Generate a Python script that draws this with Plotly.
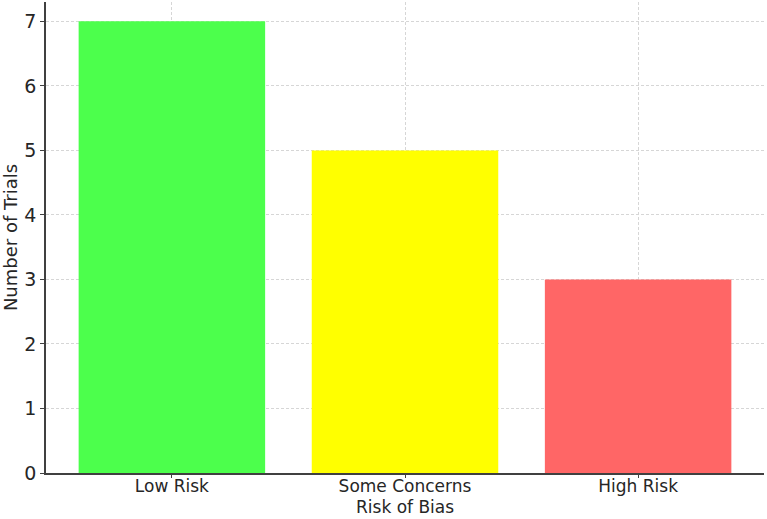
import plotly.graph_objects as go

categories = ["Low Risk", "Some Concerns", "High Risk"]
trials = [7, 5, 3]
colors = ["#4cff4c", "#ffff00", "#ff6666"]
y_ticks = [0, 1, 2, 3, 4, 5, 6, 7]

fig = go.Figure(go.Bar(
    x=categories, y=trials, marker_color=colors, marker_line_width=0, width=0.8,
))

font = dict(family="DejaVu Sans", size=18, color="#262626")
fig.update_layout(
    width=767, height=519,
    margin=dict(l=46, r=3, t=2, b=46, autoexpand=False),
    plot_bgcolor="white", paper_bgcolor="white",
    font=font, showlegend=False,
)
fig.add_annotation(
    text="Risk of Bias", x=0.5, xref="paper", y=0, yref="paper",
    yanchor="bottom", xanchor="center", yshift=-46, showarrow=False,
    font=dict(size=17),
)
fig.update_xaxes(
    range=[-0.54, 2.54], showline=True, linecolor="#404040", linewidth=1.5,
    ticks="outside", ticklen=3, tickcolor="#404040",
    showgrid=True, gridcolor="#d6d6d6", griddash="3px,2px", gridwidth=1,
    layer="above traces", tickfont=dict(size=17), ticklabelstandoff=-6,
)
fig.update_yaxes(
    range=[0, 7.3], tickvals=y_ticks, showline=True, linecolor="#404040", linewidth=1.5,
    ticks="outside", ticklen=4, tickcolor="#404040",
    showgrid=True, gridcolor="#d6d6d6", griddash="3px,2px", gridwidth=1,
    zeroline=False,
    title=dict(text="Number of Trials", font=dict(size=18), standoff=4),
    layer="above traces", tickfont=dict(size=19),
)
fig.write_html("out.html")
